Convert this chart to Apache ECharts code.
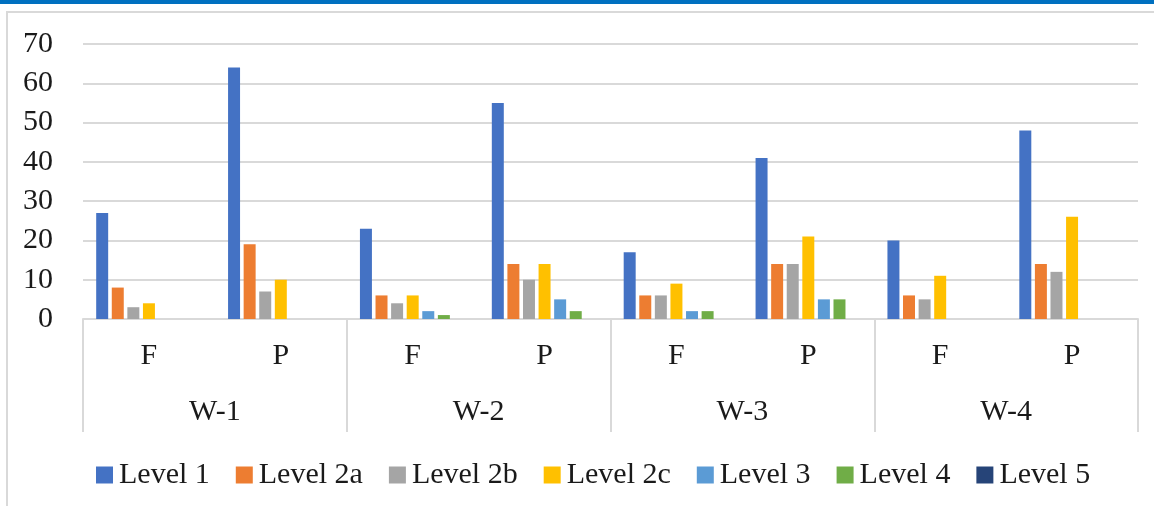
<!DOCTYPE html>
<html>
<head>
<meta charset="utf-8">
<script src="https://cdn.jsdelivr.net/npm/echarts@6/dist/echarts.min.js"></script>
<style>html,body{margin:0;padding:0;background:#fff;}#c{width:1154px;height:506px;}</style>
</head>
<body>
<div id="c"></div>
<script>
const subCategories = ['F','P','F','P','F','P','F','P'];
const groups = ['W-1','W-2','W-3','W-4'];
const seriesNames = ['Level 1','Level 2a','Level 2b','Level 2c','Level 3','Level 4','Level 5'];
const level1  = [27, 64, 23, 55, 17, 41, 20, 48];
const level2a = [8, 19, 6, 14, 6, 14, 6, 14];
const level2b = [3, 7, 4, 10, 6, 14, 5, 12];
const level2c = [4, 10, 6, 14, 9, 21, 11, 26];
const level3  = [0, 0, 2, 5, 2, 5, 0, 0];
const level4  = [0, 0, 1, 2, 2, 5, 0, 0];
const level5  = [0, 0, 0, 0, 0, 0, 0, 0];
const yTicks = [0, 10, 20, 30, 40, 50, 60, 70];
const colors = ['#4472C4','#ED7D31','#A5A5A5','#FFC000','#5B9BD5','#70AD47','#264478'];

const allValues = [level1, level2a, level2b, level2c, level3, level4, level5];
const FONT = 'Liberation Serif';
const FS = 30;
const chart = echarts.init(document.getElementById('c'));
chart.setOption({
  animation: false,
  color: colors,
  textStyle: { fontFamily: FONT },
  graphic: [
    { type: 'rect', shape: { x: 0, y: 0, width: 1154, height: 4 }, style: { fill: '#0070C0' }, silent: true },
    { type: 'rect', shape: { x: 7, y: 12, width: 1170, height: 520 }, style: { fill: 'none', stroke: '#d9d9d9', lineWidth: 2 }, silent: true }
  ],
  grid: { left: 83, right: 16, top: 44, bottom: 187, containLabel: false },
  legend: {
    data: seriesNames,
    left: 91, top: 455,
    icon: 'rect', itemWidth: 17, itemHeight: 17, itemGap: 26,
    textStyle: { fontFamily: FONT, fontSize: FS, color: '#1a1a1a', padding: [0,0,0,1] }
  },
  xAxis: [
    {
      type: 'category', data: subCategories, position: 'bottom',
      axisLine: { show: false }, axisTick: { show: false },
      axisLabel: { margin: 22, fontFamily: FONT, fontSize: FS, color: '#1a1a1a' }
    },
    {
      type: 'category', data: groups, position: 'bottom',
      axisLine: { show: true, lineStyle: { color: '#d9d9d9', width: 2 } },
      axisTick: { show: true, length: 113, interval: 0, lineStyle: { color: '#d9d9d9', width: 2 } },
      axisLabel: { margin: 78, fontFamily: FONT, fontSize: FS, color: '#1a1a1a' }
    }
  ],
  yAxis: {
    type: 'value', min: yTicks[0], max: yTicks[yTicks.length-1], interval: 10,
    axisLine: { show: false }, axisTick: { show: false },
    splitLine: { lineStyle: { color: '#d9d9d9', width: 2 } },
    axisLabel: { margin: 30, fontFamily: FONT, fontSize: FS, color: '#1a1a1a' }
  },
  series: seriesNames.map((name, i) => ({
    name, type: 'bar', xAxisIndex: 0, data: allValues[i],
    barGap: '30%', barCategoryGap: '20%',
    itemStyle: { color: colors[i] }
  }))
});
</script>
</body>
</html>
